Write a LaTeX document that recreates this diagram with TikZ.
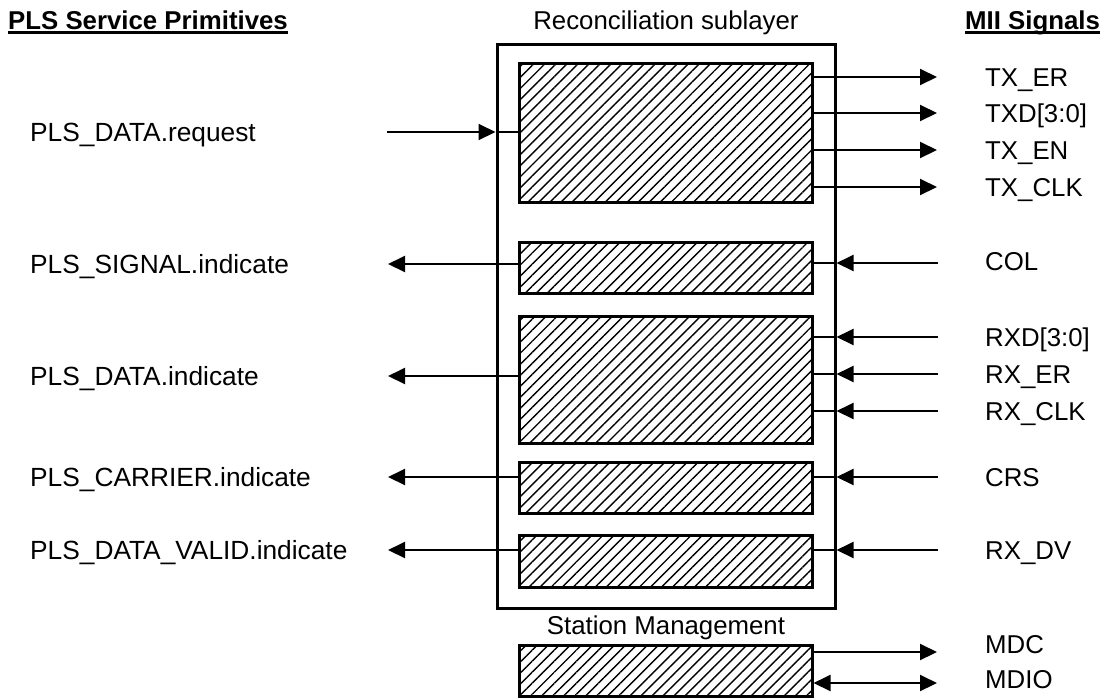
\documentclass[tikz,border=0pt]{standalone}
\usepackage{fontspec}
\setmainfont{Liberation Sans}
\usetikzlibrary{arrows.meta,patterns.meta}

\begin{document}
\begin{tikzpicture}[x=1pt,y=-1pt,
  txt/.style={font=\fontsize{25.8}{30}\selectfont, inner sep=0pt},
  lbl/.style={txt, anchor=base west},
  plbl/.style={font=\fontsize{26.3}{30}\selectfont, inner sep=0pt, anchor=base west},
  hdr/.style={font=\fontsize{25.8}{30}\selectfont\bfseries, inner sep=0pt, anchor=base west},
  uline/.style={line width=2.2pt},
  frame/.style={draw, line width=3pt, inner sep=0pt, minimum width=338pt, minimum height=564pt},
  hatchbox/.style={draw, line width=3pt, inner sep=0pt, minimum width=293pt,
    pattern={Lines[angle=45,distance=7.8pt,line width=1.4pt]}},
  wire/.style={line width=2pt},
  tip/.tip={Triangle[length=17pt,width=16pt]},
  sig/.style={line width=2pt, -tip},
  bisig/.style={line width=2pt, tip-tip},
]
\useasboundingbox (0,0) rectangle (1107,697);

% headers
\node[hdr] (hL) at (8,29) {PLS Service Primitives};
\node[hdr] (hR) at (965,29) {MII Signals};
\draw[uline] ([yshift=-3.5pt]hL.base west) -- ([yshift=-3.5pt]hL.base east);
\draw[uline] ([yshift=-3.5pt]hR.base west) -- ([yshift=-3.5pt]hR.base east);
\node[txt, anchor=base] (rsl) at (666,29) {Reconciliation sublayer};
\node[txt, anchor=base] (stm) at (666,634) {Station Management};

% reconciliation sublayer and its blocks
\node[frame] (outer) at (666,326) {};
\node[hatchbox, minimum height=139pt] (bTx)  at (665.5,132.5) {};
\node[hatchbox, minimum height=51pt]  (bCol) at (665.5,267.5) {};
\node[hatchbox, minimum height=127pt] (bRx)  at (665.5,379.5) {};
\node[hatchbox, minimum height=51pt]  (bCrs) at (665.5,487.5) {};
\node[hatchbox, minimum height=52pt]  (bDv)  at (665.5,561) {};
\node[hatchbox, minimum height=51pt]  (bSm)  at (665.5,670.5) {};

% service primitives (left)
\node[plbl] (pReq) at (30,141) {PLS\_DATA.request};
\node[plbl] (pSig) at (30,273) {PLS\_SIGNAL.indicate};
\node[plbl] (pInd) at (30,385) {PLS\_DATA.indicate};
\node[plbl] (pCar) at (30,486) {PLS\_CARRIER.indicate};
\node[plbl] (pVal) at (30,559) {PLS\_DATA\_VALID.indicate};

\coordinate (lReq) at (387,132);
\coordinate (lSig) at (388,264);
\coordinate (lInd) at (388,376);
\coordinate (lCar) at (388,477);
\coordinate (lVal) at (388,550);

\draw[sig] (lReq) -- (outer.west |- lReq);
\draw[wire] (outer.west |- lReq) -- (bTx.west |- lReq);
\draw[sig] (bCol.west |- lSig) -- (lSig);
\draw[sig] (bRx.west |- lInd) -- (lInd);
\draw[sig] (bCrs.west |- lCar) -- (lCar);
\draw[sig] (bDv.west |- lVal) -- (lVal);

% MII signals (right)
\node[lbl] (sTxEr)  at (985,86)  {TX\_ER};
\node[lbl] (sTxd)   at (985,122) {TXD[3:0]};
\node[lbl] (sTxEn)  at (985,159) {TX\_EN};
\node[lbl] (sTxClk) at (985,196) {TX\_CLK};
\node[lbl] (sCol)   at (985,270) {COL};
\node[lbl] (sRxd)   at (985,346) {RXD[3:0]};
\node[lbl] (sRxEr)  at (985,383) {RX\_ER};
\node[lbl] (sRxClk) at (985,420) {RX\_CLK};
\node[lbl] (sCrs)   at (985,486) {CRS};
\node[lbl] (sRxDv)  at (985,559) {RX\_DV};
\node[lbl] (sMdc)   at (985,653) {MDC};
\node[lbl] (sMdio)  at (985,688) {MDIO};

\coordinate (rTxEr)  at (937,77);
\coordinate (rTxd)   at (937,113);
\coordinate (rTxEn)  at (937,150);
\coordinate (rTxClk) at (937,187);
\coordinate (rCol)   at (938,263);
\coordinate (rRxd)   at (938,337);
\coordinate (rRxEr)  at (938,374);
\coordinate (rRxClk) at (938,411);
\coordinate (rCrs)   at (938,477);
\coordinate (rRxDv)  at (938,550);
\coordinate (rMdc)   at (937,652);
\coordinate (rMdio)  at (937,683);

\foreach \c in {rTxEr,rTxd,rTxEn,rTxClk}
  \draw[sig] (bTx.east |- \c) -- (\c);

\draw[wire] (outer.east |- rCol) -- (bCol.east |- rCol);
\draw[sig] (rCol) -- (outer.east |- rCol);
\foreach \c in {rRxd,rRxEr,rRxClk} {
  \draw[wire] (outer.east |- \c) -- (bRx.east |- \c);
  \draw[sig] (\c) -- (outer.east |- \c);
}
\draw[wire] (outer.east |- rCrs) -- (bCrs.east |- rCrs);
\draw[sig] (rCrs) -- (outer.east |- rCrs);
\draw[wire] (outer.east |- rRxDv) -- (bDv.east |- rRxDv);
\draw[sig] (rRxDv) -- (outer.east |- rRxDv);

\draw[sig] (bSm.east |- rMdc) -- (rMdc);
\draw[bisig] (bSm.east |- rMdio) -- (rMdio);
\end{tikzpicture}
\end{document}
